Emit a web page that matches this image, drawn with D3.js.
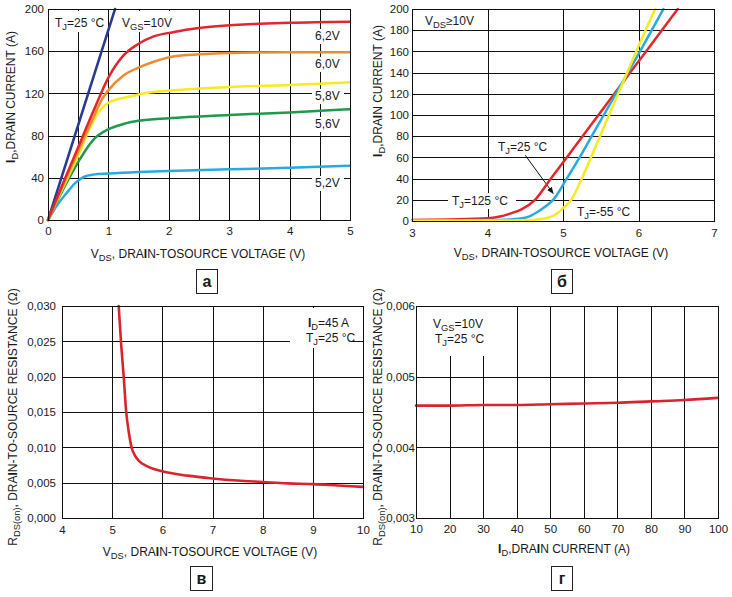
<!DOCTYPE html>
<html><head><meta charset="utf-8">
<script src="https://cdn.jsdelivr.net/npm/d3@7"></script>
<style>
body{margin:0;background:#fff}
svg{display:block}
text{font-family:"Liberation Sans",Arial,sans-serif;fill:#1a1a1a}
</style>
</head><body>
<svg id="c" width="732" height="597"></svg>
<script>
// ---------- Panel а : output characteristics ----------
const aXTicks = [0, 1, 2, 3, 4, 5];
const aYTicks = [0, 40, 80, 120, 160, 200];
const aGridX = [0.5, 1, 1.5, 2, 2.5, 3, 3.5, 4, 4.5];
const aGridY = [40, 80, 120, 160];
const aNames = ["10V", "6,2V", "6,0V", "5,8V", "5,6V", "5,2V"];
const aVds10 = [0, 1.11];
const aId10 = [0, 200];
const aVds62 = [0, 0.25, 0.5, 0.75, 1.0, 1.25, 1.5, 1.75, 2.07, 2.5, 2.85, 3.5, 4, 5];
const aId62 = [0, 35, 69, 103, 135, 156, 167, 174, 178, 182, 184, 186, 187, 188];
const aVds60 = [0, 0.25, 0.5, 0.75, 0.9, 1.0, 1.25, 1.52, 1.75, 2.07, 2.5, 2.85, 4, 5];
const aId60 = [0, 33, 65, 97, 115, 123, 137, 145, 150, 155, 157, 158, 159, 159];
const aVds58 = [0, 0.25, 0.5, 0.7, 0.86, 1.0, 1.36, 1.7, 2.07, 3, 4, 5];
const aId58 = [0, 31, 61, 88, 104, 111, 117, 121, 123, 126, 128, 130.5];
const aVds56 = [0, 0.25, 0.5, 0.75, 1.0, 1.25, 1.5, 2, 3, 4, 5];
const aId56 = [0, 29, 55, 76, 86, 91, 94, 96.5, 99.5, 102, 105];
const aVds52 = [0, 0.15, 0.3, 0.45, 0.6, 0.75, 1.0, 1.5, 2, 3, 4, 5];
const aId52 = [0, 14, 25, 35, 41, 43, 44, 45.5, 46.5, 48, 49.5, 51.5];

// ---------- Panel б : transfer characteristics ----------
const bXTicks = [3, 4, 5, 6, 7];
const bYTicks = [0, 20, 40, 60, 80, 100, 120, 140, 160, 180, 200];
const bGridX = [4, 5, 6];
const bGridY = [20, 40, 60, 80, 100, 120, 140, 160, 180];
const bV125 = [3, 3.5, 4, 4.15, 4.3, 4.45, 4.63, 4.84, 5.05, 5.26, 5.47, 5.89, 6.1, 6.52];
const bI125 = [1, 1.5, 2.5, 4, 7, 11, 20, 40, 60, 80, 100, 140, 160, 200];
const bV25 = [3, 4, 4.3, 4.5, 4.65, 4.77, 4.87, 5.05, 5.22, 5.38, 5.54, 5.86, 6.02, 6.33];
const bI25 = [0.5, 1, 1.5, 3, 8, 14, 20, 40, 60, 80, 100, 140, 160, 200];
const bVm55 = [3, 4.3, 4.6, 4.8, 4.92, 5.0, 5.11, 5.25, 5.37, 5.49, 5.61, 5.85, 5.97, 6.22];
const bIm55 = [0.3, 0.5, 1, 3, 7, 12, 20, 40, 60, 80, 100, 140, 160, 200];

// ---------- Panel в : Rds(on) vs Vgs ----------
const cXTicks = [4, 5, 6, 7, 8, 9, 10];
const cYTicks = [0, 0.005, 0.010, 0.015, 0.020, 0.025, 0.030];
const cV = [5.13, 5.18, 5.23, 5.28, 5.33, 5.39, 5.45, 5.53, 5.7, 6, 6.5, 7, 7.5, 8, 8.5, 9, 9.5, 10];
const cR = [0.030, 0.0245, 0.020, 0.015, 0.0122, 0.0099, 0.0089, 0.0081, 0.0073, 0.0066, 0.0060, 0.0056, 0.0053, 0.0051, 0.0049, 0.0048, 0.0046, 0.0044];

// ---------- Panel г : Rds(on) vs Id ----------
const dXTicks = [10, 20, 30, 40, 50, 60, 70, 80, 90, 100];
const dYTicks = [0.003, 0.004, 0.005, 0.006];
const dI = [10, 20, 30, 40, 50, 60, 70, 80, 90, 100];
const dR = [0.00459, 0.00459, 0.00460, 0.00460, 0.00461, 0.00462, 0.00463, 0.00465, 0.00467, 0.00470];

const svg = d3.select("#c");
const comma = d => d.toFixed(3).replace(".", ",");

function rich(sel, str, fs) {
  const parts = str.split(/(_\{[^}]*\}|\*[^*]*\*)/g).filter(s => s.length);
  let shifted = false;
  parts.forEach(p => {
    let t = p, sub = false, bold = false;
    if (p.startsWith("_{")) { t = p.slice(2, -1); sub = true; }
    else if (p.length > 1 && p.startsWith("*") && p.endsWith("*")) { t = p.slice(1, -1); bold = true; }
    const ts = sel.append("tspan").text(t);
    if (sub) { ts.attr("font-size", fs * 0.78); if (!shifted) ts.attr("dy", fs * 0.28); shifted = true; }
    else if (shifted) { ts.attr("dy", -fs * 0.28); shifted = false; }
    if (bold) ts.attr("font-weight", "bold");
  });
  return sel;
}
function label(x, y, str, fs, anchor, rot) {
  const t = svg.append("text").attr("font-size", fs).attr("text-anchor", anchor || "start");
  if (rot) t.attr("transform", `translate(${x},${y}) rotate(-90)`);
  else t.attr("x", x).attr("y", y);
  return rich(t, str, fs);
}
function bg(x, y, w, h) {
  svg.append("rect").attr("x", x).attr("y", y).attr("width", w).attr("height", h).attr("fill", "#fff");
}

function panel(cfg) {
  const { x, y, gx, gy, xt, yt, fmtY, padY, padX } = cfg;
  const [x0, x1] = x.range(), [y0, y1] = y.range();
  const g = svg.append("g");
  g.append("g").attr("transform", `translate(0,${y0})`)
    .call(d3.axisBottom(x).tickValues(gx).tickSize(-(y0 - y1)).tickFormat(""))
    .call(s => s.select(".domain").remove())
    .call(s => s.selectAll("line").attr("stroke", "#111").attr("shape-rendering", "crispEdges"));
  g.append("g").attr("transform", `translate(${x0},0)`)
    .call(d3.axisLeft(y).tickValues(gy).tickSize(-(x1 - x0)).tickFormat(""))
    .call(s => s.select(".domain").remove())
    .call(s => s.selectAll("line").attr("stroke", "#111").attr("shape-rendering", "crispEdges"));
  g.append("g").attr("transform", `translate(0,${y0})`)
    .call(d3.axisBottom(x).tickValues(xt).tickSize(0).tickPadding(padX).tickFormat(d3.format("d")))
    .call(s => s.select(".domain").remove())
    .call(s => s.selectAll("text").attr("font-size", 11.5).attr("font-family", "Liberation Sans, Arial, sans-serif").attr("fill", "#1a1a1a"));
  g.append("g").attr("transform", `translate(${x0},0)`)
    .call(d3.axisLeft(y).tickValues(yt).tickSize(0).tickPadding(padY).tickFormat(fmtY))
    .call(s => s.select(".domain").remove())
    .call(s => s.selectAll("text").attr("font-size", 11.5).attr("font-family", "Liberation Sans, Arial, sans-serif").attr("fill", "#1a1a1a"));
  return g;
}
function frame(x, y) {
  const [x0, x1] = x.range(), [y0, y1] = y.range();
  svg.append("rect").attr("x", x0 + 0.5).attr("y", y1 + 0.5).attr("width", x1 - x0).attr("height", y0 - y1)
    .attr("fill", "none").attr("stroke", "#111").attr("stroke-width", 1);
}
function curve(x, y, xs, ys, color, w) {
  const pts = xs.map((v, i) => [v, ys[i]]);
  svg.append("path").datum(pts)
    .attr("d", d3.line().x(d => x(d[0])).y(d => y(d[1])).curve(d3.curveMonotoneX))
    .attr("fill", "none").attr("stroke", color).attr("stroke-width", w || 2.5)
    .attr("stroke-linejoin", "round").attr("stroke-linecap", "round");
}
function box(x, y, w, h, t) {
  svg.append("rect").attr("x", x + 0.5).attr("y", y + 0.5).attr("width", w).attr("height", h)
    .attr("fill", "#fff").attr("stroke", "#222").attr("stroke-width", 1);
  svg.append("text").attr("x", x + w / 2 + 0.5).attr("y", y + h / 2 + 6).attr("text-anchor", "middle")
    .attr("font-size", 16).attr("font-weight", "bold").text(t);
}

// ===== Panel а =====
const ax = d3.scaleLinear().domain([0, 5]).range([48, 350]);
const ay = d3.scaleLinear().domain([0, 200]).range([220, 9]);
panel({ x: ax, y: ay, gx: aGridX, gy: aGridY, xt: aXTicks, yt: aYTicks, fmtY: d3.format("d"), padY: 4, padX: 7 });
bg(52, 11, 54, 21); bg(118, 11, 58, 21);
label(55, 27, "T_{J}=25 °C", 12);
label(122, 27, "V_{GS}=10V", 12);
const aLabelY = [40, 68, 100, 128, 187];
aNames.slice(1).forEach((n, i) => { bg(312, aLabelY[i] - 11, 32, 15); label(315, aLabelY[i], n, 12); });
curve(ax, ay, aVds10, aId10, "#2b3990");
curve(ax, ay, aVds52, aId52, "#27aae1");
curve(ax, ay, aVds56, aId56, "#1d9a4c");
curve(ax, ay, aVds58, aId58, "#f7ea1f");
curve(ax, ay, aVds60, aId60, "#ee8b2f");
curve(ax, ay, aVds62, aId62, "#e2262c");
frame(ax, ay);
label(198, 258, "V_{DS}, DRA*I*N-TOSOURCE VOLTAGE (V)", 12, "middle");
label(15, 97, "*I*_{D},DRA*I*N CURRENT (A)", 12, "middle", true);
box(196, 269, 21, 24, "а");

// ===== Panel б =====
const bx = d3.scaleLinear().domain([3, 7]).range([412, 714]);
const by = d3.scaleLinear().domain([0, 200]).range([221, 9]);
panel({ x: bx, y: by, gx: bGridX, gy: bGridY, xt: bXTicks, yt: bYTicks, fmtY: d3.format("d"), padY: 3, padX: 8 });
bg(448, 193, 68, 16); bg(574, 205, 60, 14);
label(425, 25, "V_{DS}≥10V", 12);
label(498, 151, "T_{J}=25 °C", 12);
label(452, 205, "T_{J}=125 °C", 12);
label(577, 216, "T_{J}=-55 °C", 12);
svg.append("defs").append("marker").attr("id", "ah").attr("viewBox", "0 0 10 10")
  .attr("refX", 9).attr("refY", 5).attr("markerWidth", 7).attr("markerHeight", 7).attr("orient", "auto")
  .append("path").attr("d", "M0,1 L10,5 L0,9 Z").attr("fill", "#111");
svg.append("line").attr("x1", bx(4.5)).attr("y1", by(62)).attr("x2", bx(4.87)).attr("y2", by(26))
  .attr("stroke", "#111").attr("stroke-width", 1).attr("marker-end", "url(#ah)");
curve(bx, by, bV125, bI125, "#e2262c");
curve(bx, by, bV25, bI25, "#27aae1");
curve(bx, by, bVm55, bIm55, "#f7ea1f");
frame(bx, by);
label(561, 257, "V_{DS}, DRA*I*N-TOSOURCE VOLTAGE (V)", 12, "middle");
label(382, 91, "*I*_{D},DRA*I*N CURRENT (A)", 12, "middle", true);
box(551, 269, 21, 24, "б");

// ===== Panel в =====
const cx = d3.scaleLinear().domain([4, 10]).range([62, 363]);
const cy = d3.scaleLinear().domain([0, 0.030]).range([518, 306]);
panel({ x: cx, y: cy, gx: [5, 6, 7, 8, 9], gy: [0.005, 0.010, 0.015, 0.020, 0.025], xt: cXTicks, yt: cYTicks, fmtY: comma, padY: 6, padX: 8 });
bg(290, 308, 61, 40);
label(308, 327, "*I*_{D}=45 A", 12);
label(306, 342, "T_{J}=25 °C", 12);
curve(cx, cy, cV, cR, "#d8252d", 2.6);
frame(cx, cy);
label(210, 556, "V_{DS}, DRA*I*N-TOSOURCE VOLTAGE (V)", 12, "middle");
label(17, 417, "R_{DS(on)}, DRA*I*N-TO-SOURCE RES*I*STANCE (Ω)", 12, "middle", true);
box(190, 566, 22, 24, "в");

// ===== Panel г =====
const dx = d3.scaleLinear().domain([10, 100]).range([416, 718]);
const dy = d3.scaleLinear().domain([0.003, 0.006]).range([518, 306]);
panel({ x: dx, y: dy, gx: [20, 30, 40, 50, 60, 70, 80, 90], gy: [0.004, 0.005], xt: dXTicks, yt: dYTicks, fmtY: comma, padY: 1, padX: 7 });
bg(426, 307, 70, 49);
label(433, 328, "V_{GS}=10V", 12);
label(435, 343, "T_{J}=25 °C", 12);
curve(dx, dy, dI, dR, "#d8252d", 2.6);
frame(dx, dy);
label(564, 553, "*I*_{D},DRA*I*N CURRENT (A)", 12, "middle");
label(382, 417, "R_{DS(on)}, DRA*I*N-TO-SOURCE RES*I*STANCE (Ω)", 12, "middle", true);
box(551, 566, 21, 24, "г");
</script>
</body></html>
